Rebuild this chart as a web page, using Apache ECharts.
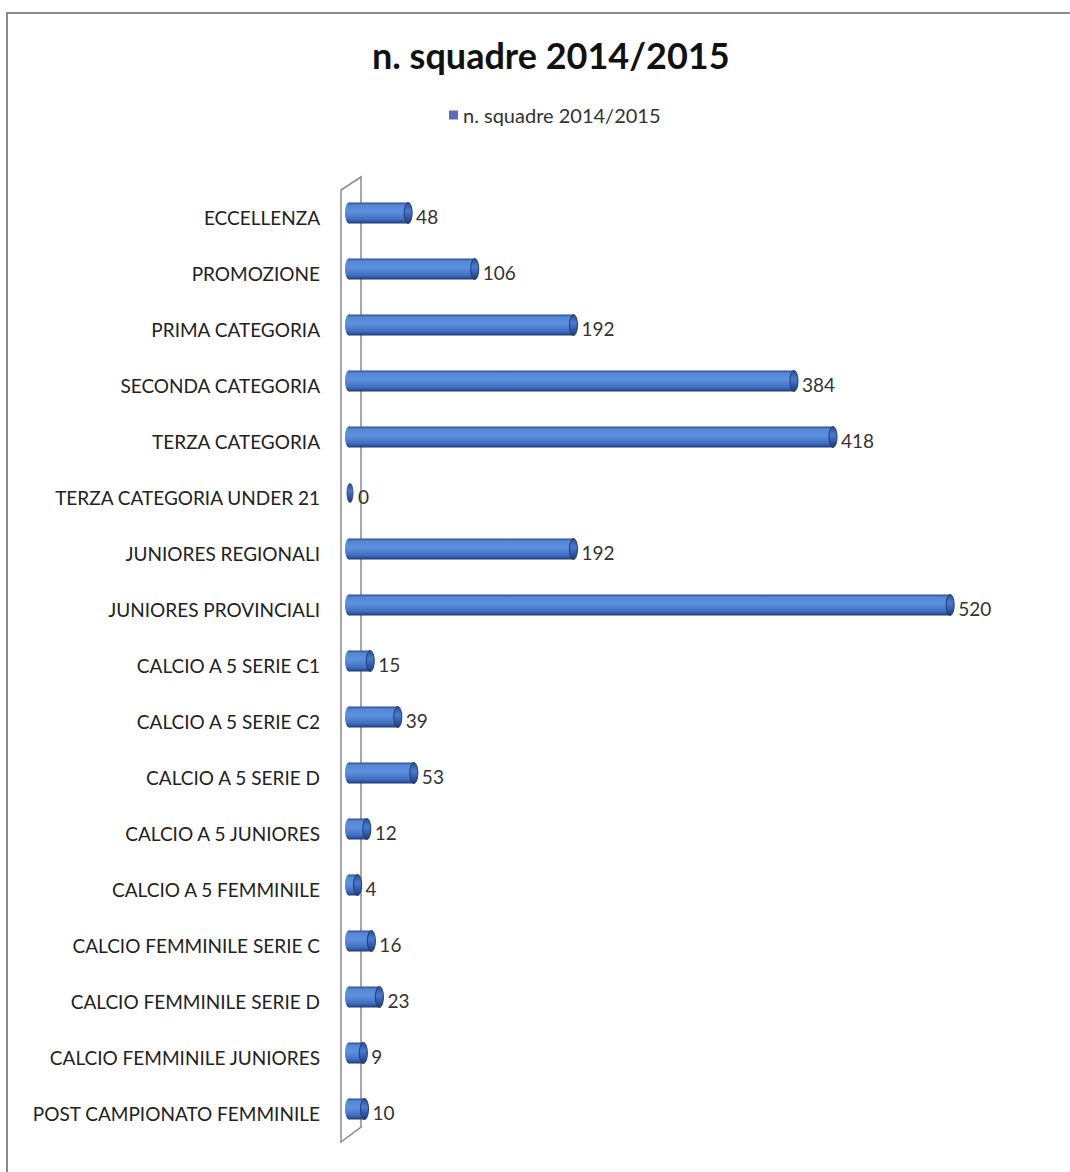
<!DOCTYPE html>
<html>
<head>
<meta charset="utf-8">
<script src="https://cdn.jsdelivr.net/npm/echarts@6/dist/echarts.min.js"></script>
<style>
html,body{margin:0;padding:0;background:#fff;}
#chart{width:1070px;height:1172px;}
</style>
</head>
<body>
<div id="chart"></div>
<script>
const titleText = 'n. squadre 2014/2015';
const seriesName = 'n. squadre 2014/2015';
const categories = [
  'ECCELLENZA', 'PROMOZIONE', 'PRIMA CATEGORIA', 'SECONDA CATEGORIA', 'TERZA CATEGORIA',
  'TERZA CATEGORIA UNDER 21', 'JUNIORES REGIONALI', 'JUNIORES PROVINCIALI',
  'CALCIO A 5 SERIE C1', 'CALCIO A 5 SERIE C2', 'CALCIO A 5 SERIE D', 'CALCIO A 5 JUNIORES',
  'CALCIO A 5 FEMMINILE', 'CALCIO FEMMINILE SERIE C', 'CALCIO FEMMINILE SERIE D',
  'CALCIO FEMMINILE JUNIORES', 'POST CAMPIONATO FEMMINILE'
];
const values = [48, 106, 192, 384, 418, 0, 192, 520, 15, 39, 53, 12, 4, 16, 23, 9, 10];

const FONT = 'Lato';
const chart = echarts.init(document.getElementById('chart'), null, {renderer: 'svg'});

function bodyGrad() {
  return new echarts.graphic.LinearGradient(0, 0, 0, 1, [
    {offset: 0, color: '#2a4b8c'},
    {offset: 0.12, color: '#5687d6'},
    {offset: 0.45, color: '#5d90e0'},
    {offset: 0.8, color: '#3f6fc2'},
    {offset: 1, color: '#1e3b78'}
  ]);
}
function capGrad() {
  return new echarts.graphic.LinearGradient(0, 0, 0, 1, [
    {offset: 0, color: '#2a4b8c'},
    {offset: 0.4, color: '#4a7bd0'},
    {offset: 1, color: '#1e3b78'}
  ]);
}

const option = {
  animation: false,
  backgroundColor: '#fff',
  title: {
    text: titleText,
    left: 367,
    top: 32,
    textStyle: {fontFamily: FONT, fontSize: 36, fontWeight: 'bold', color: '#111'}
  },
  legend: {
    top: 100,
    left: 444,
    data: [{name: seriesName, icon: 'rect'}],
    itemWidth: 9,
    itemHeight: 9,
    itemGap: 5,
    textStyle: {fontFamily: FONT, fontSize: 20, color: '#333'}
  },
  grid: {left: 353, right: 28, top: 189, bottom: 31},
  xAxis: {
    type: 'value', min: 0, max: 600,
    show: false
  },
  yAxis: {
    type: 'category',
    inverse: true,
    data: categories,
    axisLine: {show: false},
    axisTick: {show: false},
    axisLabel: {fontFamily: FONT, fontSize: 19, color: '#222', margin: 33}
  },
  graphic: [
    {type: 'rect', silent: true, z: -10, shape: {x: 7, y: 13, width: 1100, height: 1200},
     style: {fill: 'none', stroke: '#8a8a8a', lineWidth: 2}},
    {type: 'polygon', silent: true, z: -10,
     shape: {points: [[341, 190], [361, 177], [361, 1127], [341, 1142]]},
     style: {fill: 'none', stroke: '#8c8c8c', lineWidth: 1.5}}
  ],
  series: [{
    name: seriesName,
    type: 'custom',
    color: '#5b6cbc',
    z: 5,
    data: values.map((v, i) => [v, i]),
    renderItem: function (params, api) {
      const v = api.value(0);
      const idx = api.value(1);
      const p0 = api.coord([0, idx]);
      const p1 = api.coord([v, idx]);
      const h = 21;
      const rx = 4;
      const x0 = p0[0] - 4;
      const x1 = p1[0];
      const yc = p0[1] - 4;
      const children = [];
      if (v > 0) {
        children.push({type: 'ellipse', shape: {cx: x0, cy: yc, rx: rx, ry: h / 2}, style: {fill: bodyGrad()}});
        children.push({type: 'rect', shape: {x: x0, y: yc - h / 2, width: x1 - x0, height: h}, style: {fill: bodyGrad()}});
        children.push({type: 'ellipse', shape: {cx: x1, cy: yc, rx: rx, ry: h / 2}, style: {fill: capGrad(), stroke: '#1e3b78', lineWidth: 1}});
      } else {
        children.push({type: 'ellipse', shape: {cx: x0 + 1, cy: yc, rx: 3, ry: h / 2 - 1}, style: {fill: capGrad(), stroke: '#2a3f80', lineWidth: 0.8}});
      }
      children.push({
        type: 'text',
        style: {
          x: (v > 0 ? x1 : x0 + 1) + 8, y: yc + 3,
          text: String(v),
          fill: '#333',
          font: '19px ' + FONT,
          verticalAlign: 'middle',
          align: 'left'
        }
      });
      return {type: 'group', children: children};
    }
  }]
};
chart.setOption(option);
</script>
</body>
</html>
